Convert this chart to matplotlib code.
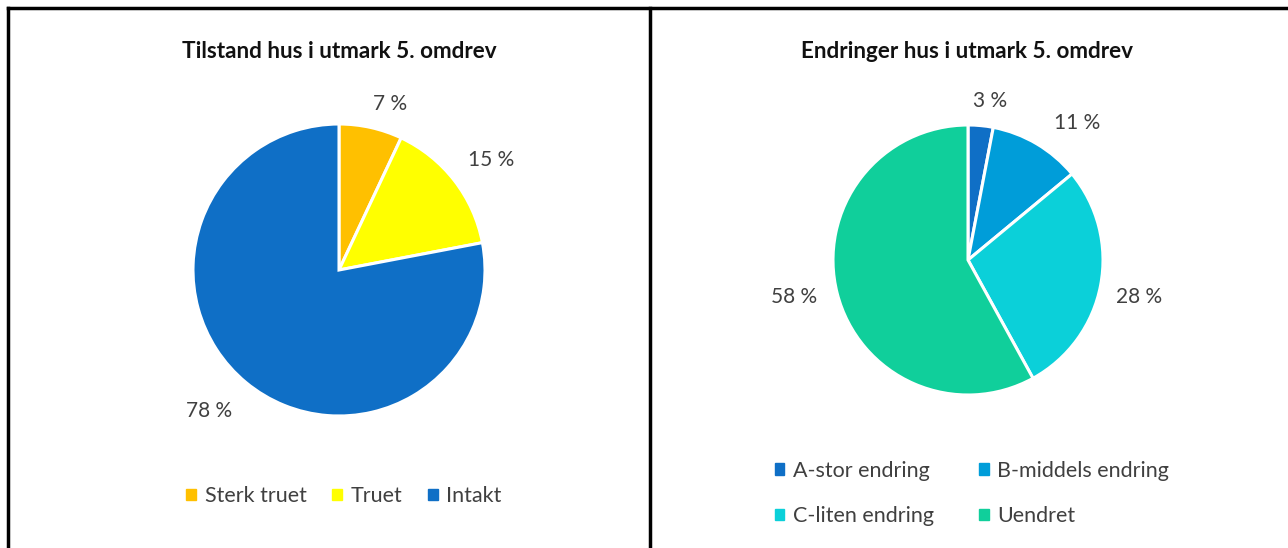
import matplotlib.pyplot as plt
from matplotlib.lines import Line2D
from matplotlib.patches import Patch

plt.rcParams['font.family'] = ['Lato', 'DejaVu Sans']

# left chart
left_title = "Tilstand hus i utmark 5. omdrev"
left_labels = ["Sterk truet", "Truet", "Intakt"]
left_values = [7, 15, 78]
left_colors = ["#FFC000", "#FFFF00", "#0F6FC6"]

# right chart
right_title = "Endringer hus i utmark 5. omdrev"
right_labels = ["A-stor endring", "B-middels endring", "C-liten endring", "Uendret"]
right_values = [3, 11, 28, 58]
right_colors = ["#0F6FC6", "#009DD9", "#0BD0D9", "#10CF9B"]

W, H = 1288, 548
fig = plt.figure(figsize=(W / 100, H / 100), dpi=100)
fig.patch.set_facecolor("white")

TXT = "#404040"
FS = 15.5


def px_axes(cx, cy, r):
    # axes in pixel coords (origin top-left) around a pie centre
    return fig.add_axes([(cx - r) / W, 1 - (cy + r) / H, 2 * r / W, 2 * r / H])


def draw_pie(ax, values, colors, r, nudges):
    wedges, _, autotexts = ax.pie(values, colors=colors, startangle=90, counterclock=False,
                                  autopct='%.0f %%', pctdistance=1.25,
                                  wedgeprops=dict(edgecolor="white", linewidth=2.2),
                                  textprops=dict(color=TXT, fontsize=15))
    # small pixel nudges to mimic Excel's best-fit label placement
    for t, (ox, oy) in zip(autotexts, nudges):
        x, y = t.get_position()
        t.set_position((x + ox / r, y + oy / r))
    ax.set_xlim(-1, 1)
    ax.set_ylim(-1, 1)
    ax.set_aspect("equal")
    ax.axis("off")
    return wedges


ax1 = px_axes(339, 270, 146)
draw_pie(ax1, left_values, left_colors, 146, [(11, -12), (8, -2), (-14, 0)])
fig.text(339 / W, 1 - 52 / H, left_title, ha="center", va="center",
         fontsize=16.2, fontweight="bold", color="#111111")
fig.legend([Patch(color=c) for c in left_colors], left_labels, loc="center",
           bbox_to_anchor=(344 / W, 1 - 496 / H), ncol=3, frameon=False,
           fontsize=FS, labelcolor=TXT, handlelength=0.45, handleheight=0.45,
           handletextpad=0.4, columnspacing=1.2)

ax2 = px_axes(968, 260, 135)
draw_pie(ax2, right_values, right_colors, 135, [(6, -9), (23, -8), (5, -5), (-10, 5)])
fig.text(967 / W, 1 - 52 / H, right_title, ha="center", va="center",
         fontsize=16.2, fontweight="bold", color="#111111")
# column-wise fill -> reorder so rows read A, B / C, Uendret
order = [0, 2, 1, 3]
fig.legend([Patch(color=right_colors[i]) for i in order], [right_labels[i] for i in order],
           loc="center", bbox_to_anchor=(972 / W, 1 - 493.5 / H), ncol=2, frameon=False,
           fontsize=FS, labelcolor=TXT, handlelength=0.45, handleheight=0.45,
           handletextpad=0.4, columnspacing=2.1, labelspacing=1.19)

# frame lines
lw = 2.5
fig.add_artist(Line2D([8 / W, 1], [1 - 8 / H, 1 - 8 / H], color="black", lw=lw))
fig.add_artist(Line2D([8 / W, 8 / W], [0, 1 - 8 / H], color="black", lw=lw))
fig.add_artist(Line2D([650 / W, 650 / W], [0, 1 - 8 / H], color="black", lw=lw))

fig.savefig("out.png", dpi=100, facecolor="white")
